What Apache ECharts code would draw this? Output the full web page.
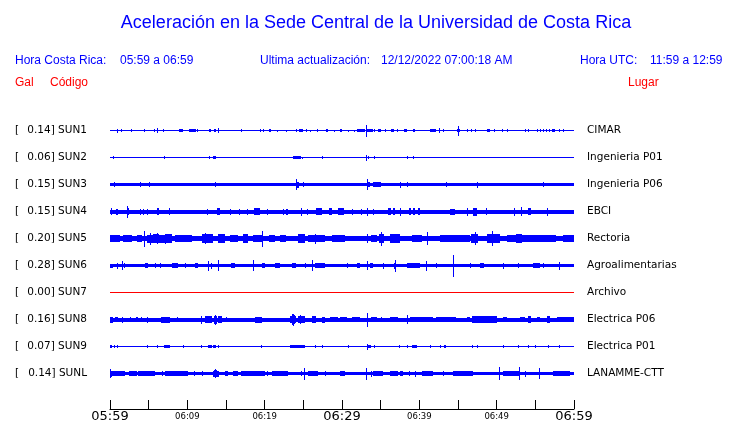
<!DOCTYPE html>
<html><head><meta charset="utf-8">
<script src="https://cdn.jsdelivr.net/npm/echarts@6/dist/echarts.min.js"></script>
<style>html,body{margin:0;padding:0;background:#fff}#c{width:740px;height:423px}</style>
</head><body><div id="c"></div>
<script>
// ---- data ----
const codes = ['SUN1','SUN2','SUN3','SUN4','SUN5','SUN6','SUN7','SUN8','SUN9','SUNL'];
const gal = ['0.14','0.06','0.15','0.15','0.20','0.28','0.00','0.16','0.07','0.14'];
const places = ['CIMAR','Ingenieria P01','Ingenieria P06','EBCI','Rectoria','Agroalimentarias','Archivo','Electrica P06','Electrica P01','LANAMME-CTT'];
const tickLabels = {0:'05:59',10:'06:09',20:'06:19',30:'06:29',40:'06:39',50:'06:49',60:'06:59'};
const majorTicks = [0,30,60];
// background trace amplitude per station (trace units)
const base = [0.5,0.5,1.7,2.0,2.9,1.5,0.5,2.0,0.6,1.6];
// bursts/spikes: [startMinute, endMinute, halfAmplitude]
const ev1 = [[0.95,0.95,2],[1.47,1.47,1.2],[2.76,2.76,1.2],[4.44,4.44,1.2],[5.73,5.73,1.2],[6.03,6.03,2.2],[6.9,6.9,1.2],[8.9,9.4,1.4],[10.2,11.1,1.4],[11.3,11.3,1.2],[12.8,13.1,1.4],[13.4,13.75,1.4],[14.0,14.0,2.5],[17.0,17.0,1.2],[19.4,19.4,1.2],[19.8,19.8,1.2],[20.5,20.5,1.2],[20.7,20.7,1.2],[21.6,21.6,1],[22.7,22.7,1],[24.05,24.05,1.2],[24.5,24.9,1.4],[25.4,25.4,1.2],[25.9,25.9,1],[26.8,26.8,1.2],[27.9,28.2,1.4],[29.0,29.0,1],[29.74,29.96,1.4],[30.8,30.8,1],[31.55,31.55,1],[31.98,32.97,1.4],[33.15,33.15,6],[33.2,34.05,1.5],[34.2,34.2,1.2],[34.7,35.04,1.4],[35.5,35.5,1.2],[36.3,36.72,1.2],[37.16,37.16,1.2],[37.97,38.36,1.2],[39.2,39.5,1.2],[41.38,42.2,1.5],[42.5,42.5,2.5],[43.1,43.1,1.2],[44.9,45.3,1.6],[45.04,45.04,5],[46.2,46.2,1.2],[46.7,46.7,1.2],[47.2,47.2,1.2],[48.7,49.1,1.2],[49.66,49.66,1.2],[50.7,50.86,1.2],[51.3,51.3,1.2],[53.66,53.66,1.2],[54.1,54.1,1.2],[55.2,55.2,1.2],[55.6,55.6,1.2],[56.0,56.0,1.2],[56.4,56.4,1.2],[56.8,56.8,1.2],[57.2,57.6,1.2],[58.0,58.0,1.2],[58.6,58.6,1.2]];
const ev2 = [[0.43,0.43,1.3],[7.03,7.03,1.5],[12.84,12.84,1.2],[13.36,13.66,1.3],[23.7,24.7,1.5],[24.87,24.87,1],[27.37,27.37,1.2],[33.15,33.15,3],[33.3,33.5,1.3],[34.2,34.2,1.2],[38.45,38.45,1.5],[39.2,39.2,1.5]];
const ev3 = [[0.56,0.56,2.5],[3.9,3.9,2.2],[5.1,5.1,2.7],[13.6,13.6,2.8],[24.1,24.1,5.5],[24.2,24.5,3],[24.9,24.9,2.5],[33.2,33.2,5.5],[33.3,33.6,2.8],[34.0,35.1,2.1],[37.5,37.5,3],[38.45,38.45,2.3],[43.45,43.45,2.2],[47.4,47.4,3],[56.0,56.0,2.2]];
const ev4 = [[0.13,0.13,3.3],[0.78,0.99,3],[2.16,2.16,6],[2.37,2.37,3.5],[3.84,3.84,3],[4.31,4.31,3],[4.83,4.83,3],[6.03,6.34,3.5],[7.67,7.67,3.5],[12.5,12.5,3],[13.9,14.2,3.2],[15.56,15.56,3],[16.7,16.7,3],[17.7,17.7,3],[18.66,19.4,3.3],[20.26,20.26,3],[22.33,22.5,3],[22.8,23.06,3],[24.66,24.66,4],[25.43,25.43,3],[26.7,27.4,3.2],[28.3,28.7,3.2],[29.5,30.3,3.3],[31.3,31.3,3],[32.46,32.46,3],[33.2,33.2,4],[34.05,34.05,3],[35.9,36.3,3.2],[36.6,36.85,3.2],[37.5,37.5,4],[38.6,38.9,3.2],[39.2,39.5,3.2],[39.8,40.1,3.4],[44.0,44.6,3],[46.1,46.3,4],[47.0,47.4,4],[48.6,48.6,3.5],[52.2,52.2,4],[53.2,53.2,4.5],[54.1,54.5,3.4],[56.5,56.5,4]];
const ev5 = [[0,1.3,3.4],[1.7,2.8,3.4],[3.45,4.1,3.6],[4.4,4.4,8],[4.74,5.5,4],[5.5,6.3,4.6],[6.3,7.2,4],[7.2,8.0,4.4],[5.2,5.2,6],[6.1,6.1,5.5],[7.1,7.1,5],[8.4,10.6,3.4],[11.85,13.36,4.1],[12.3,12.3,5.5],[14.0,14.87,4.1],[15.5,16.6,3.4],[17.24,17.9,4.6],[18.5,19.8,3.8],[19.6,19.6,8],[20.5,21.3,3.8],[22.0,22.8,3.4],[24.35,25.2,4.2],[25.65,27.8,3.7],[26.5,26.5,5],[28.7,30.4,3.4],[33.2,33.2,4.5],[33.8,34.5,3.5],[34.8,35.4,4.3],[35.1,35.1,7],[36.2,37.5,4.4],[39.0,40.3,3.4],[41.0,41.0,6.5],[42.7,46.5,3.4],[46.7,47.6,4.4],[47.2,47.2,6.5],[48.7,50.4,4.4],[49.35,49.35,7.5],[51.3,57.7,3.6],[52.5,53.3,4.3],[58.6,60,3.4]];
const ev6 = [[0,0.43,2],[0.86,0.86,3],[1.5,1.5,4.5],[1.85,2.0,2.5],[4.5,4.96,2.5],[5.8,5.8,2.2],[6.5,6.5,2.2],[8.0,8.8,2.2],[9.7,9.7,2.2],[11.0,11.4,2.8],[12.7,12.7,5],[13.1,13.1,3],[14.0,14.0,5.5],[15.7,16.2,2.2],[18.5,18.5,5.5],[19.6,20.0,2.2],[21.3,22.0,2.2],[23.5,24.1,2.2],[25.2,25.2,2.5],[26.16,26.16,5.5],[26.5,27.8,2.5],[30.6,30.6,2.2],[31.9,32.3,2.2],[33.2,33.2,4.5],[33.6,34.05,2.8],[35.35,35.35,3],[36.85,36.85,6],[36.7,37.0,3],[38.4,40.1,2.3],[40.86,40.86,5],[42.2,42.2,2.2],[44.4,44.4,11],[46.6,46.6,2.5],[47.8,48.3,2.2],[50.86,50.86,3],[52.8,52.8,2.5],[54.7,55.6,2.2],[56.0,56.0,2.5],[58.0,58.0,4]];
const ev7 = [];
const ev8 = [[0,0.43,3],[0.65,1.08,2.7],[1.5,1.5,3],[2.6,2.6,2.8],[3.3,3.66,2.7],[3.97,3.97,2.8],[4.74,4.74,3],[6.6,7.76,3],[8.6,8.6,2.8],[11.77,11.77,4],[12.3,13.15,3.2],[13.45,13.8,4],[13.6,13.6,5],[14.0,14.44,3.2],[15.0,15.0,2.8],[18.75,19.6,3],[23.3,23.5,3.5],[23.5,23.9,4.5],[23.55,23.55,5.5],[23.7,23.7,6],[23.9,24.1,3.5],[24.35,25.2,3.5],[24.6,24.6,4.5],[26.1,26.7,3.2],[27.4,27.8,3],[28.45,29.5,2.6],[29.74,30.6,2.7],[31.25,32.33,2.8],[33.2,33.2,7],[33.8,34.5,2.8],[35.1,35.1,2.8],[36.2,37.3,2.6],[38.36,38.36,4.5],[38.8,41.8,2.8],[42.2,44.8,2.8],[46.1,46.5,2.8],[46.8,50.0,3.2],[50.86,51.3,2.8],[53.0,53.66,2.8],[54.1,54.5,3.2],[55.17,55.6,2.8],[56.5,56.9,3.2],[57.8,60,2.8]];
const ev9 = [[0,0.2,1.3],[0.52,0.52,1.3],[0.95,0.95,1.3],[4.74,4.74,1.2],[6.1,6.1,1.2],[7.0,7.76,1.5],[9.5,9.5,1.2],[11.77,11.77,1.5],[12.7,13.15,1.5],[13.36,13.66,1.4],[14.0,14.0,1.3],[19.5,19.5,1.3],[23.3,25.2,1.7],[26.5,26.5,1.3],[27.37,27.37,1.3],[30.8,30.8,1.2],[33.2,33.2,3],[33.4,33.8,1.5],[34.2,34.2,1.2],[37.4,37.4,1.3],[38.36,38.36,1.3],[39.0,39.65,1.5],[41.38,41.38,1.3],[42.67,42.67,1.3],[43.2,43.5,1.3],[46.8,46.8,1.2],[47.4,47.6,1.6],[50.86,50.86,1.3],[52.8,52.8,1.2],[54.1,54.1,1.2],[54.96,54.96,1.2],[56.7,56.7,1.2],[58.0,58.0,1.2]];
const evL = [[0,0,4.5],[0,0.2,3],[0.2,1.94,2.4],[2.4,3.45,2.1],[3.66,5.8,2.1],[6.77,6.77,2.6],[7.1,10.1,2.1],[10.8,10.8,2.2],[11.85,11.85,2.2],[13.36,13.5,3],[13.5,13.9,3.5],[13.6,13.6,4.5],[13.9,14.1,3],[14.9,15.3,2.4],[15.95,16.6,2.2],[17.0,20.0,2.3],[20.26,20.26,2.2],[20.9,23.06,2.1],[24.7,24.7,2.6],[25.13,25.13,6],[25.65,26.94,2.4],[27.8,27.8,2.2],[29.74,30.4,2.1],[33.1,33.1,6],[33.8,33.8,3],[34.05,35.35,2.2],[36.2,37.3,2.2],[37.5,37.9,2.5],[38.6,38.6,2.2],[39.4,39.4,3],[40.3,41.8,2.2],[43.1,43.1,2.5],[44.4,47.0,2.1],[50.34,50.34,6.5],[50.86,53.0,2.4],[52.9,52.9,6.5],[53.66,53.66,3],[55.5,55.5,5.5],[57.3,59.5,2.8]];
const events = [ev1,ev2,ev3,ev4,ev5,ev6,ev7,ev8,ev9,evL];
const TRACE_UNITS_PER_ROW = 27;

// ---- chart ----
const chart = echarts.init(document.getElementById('c'), null, {renderer:'canvas'});
const BLUE = '#0000ff', RED = '#ff0000';
const catLabels = codes.map((c,i)=>'{b|[}{v|' + gal[i] + '] ' + c + '}');

function renderItem(params, api){
  const t0 = api.value(0), t1 = api.value(1), row = api.value(2), half = api.value(3);
  const p0 = api.coord([t0, row]);
  const p1 = api.coord([t1, row]);
  const band = api.size([0, 1])[1];
  const h = half * band / TRACE_UNITS_PER_ROW;
  const x0 = Math.round(p0[0]);
  const x1 = Math.max(x0 + 1, Math.round(p1[0]));
  const cy = p0[1] + 0.5;
  const yTop = Math.round(cy - h);
  const yBot = Math.max(yTop + 1, Math.round(cy + h));
  return {type:'rect', shape:{x:x0, y:yTop, width:x1-x0, height:yBot-yTop},
          style:{fill: api.visual('color')}};
}

const series = codes.map((c, i) => {
  const data = [[0, 60, i, base[i]]].concat(events[i].map(e => [e[0], e[1], i, e[2]]));
  return {type:'custom', name:c, renderItem, data, encode:{x:[0,1], y:2},
          itemStyle:{color: c === 'SUN7' ? RED : BLUE}, silent:true, animation:false, clip:false};
});

const txt = (x, y, s, color, size, align) => ({type:'text', x, y,
  style:{text:s, fill:color, font: size + 'px "Liberation Sans", Arial, sans-serif', textAlign:align||'left', textVerticalAlign:'middle'}});

chart.setOption({
  animation:false,
  grid:{left:110, right:166, top:116.5, bottom:36.5, containLabel:false, outerBoundsMode:'none'},
  xAxis:{type:'value', min:0, max:60, interval:5, offset:22.5,
    axisLine:{show:true, lineStyle:{color:'#000', width:1}},
    axisTick:{show:true, inside:true, length:9, lineStyle:{color:'#000'}},
    splitLine:{show:false},
    axisLabel:{margin:1, color:'#000', fontFamily:'"DejaVu Sans", sans-serif',
      formatter: v => tickLabels[v] === undefined ? '' : (majorTicks.includes(v) ? '{big|' + tickLabels[v] + '}' : '{small|' + tickLabels[v] + '}'),
      rich:{big:{fontSize:13, fontFamily:'"DejaVu Sans", sans-serif', color:'#000'},
            small:{fontSize:8.5, fontFamily:'"DejaVu Sans", sans-serif', color:'#000', padding:[2,0,0,0]}}}
  },
  yAxis:[
    {type:'category', data:catLabels, inverse:true, boundaryGap:true,
     axisLine:{show:false}, axisTick:{show:false}, splitLine:{show:false},
     axisLabel:{margin:23, color:'#000', fontFamily:'"DejaVu Sans", sans-serif', fontSize:10.5,
       rich:{b:{width:12, align:'left', fontSize:10.5, fontFamily:'"DejaVu Sans", sans-serif', color:'#000'},
             v:{width:60, align:'right', fontSize:10.5, fontFamily:'"DejaVu Sans", sans-serif', color:'#000'}}}},
    {type:'category', data:places, inverse:true, boundaryGap:true, position:'right',
     axisLine:{show:false}, axisTick:{show:false}, splitLine:{show:false},
     axisLabel:{margin:13, align:'left', color:'#000', fontFamily:'"DejaVu Sans", sans-serif', fontSize:10.5}}
  ],
  graphic:[
    txt(376, 23, 'Aceleración en la Sede Central de la Universidad de Costa Rica', BLUE, 18, 'center'),
    txt(15, 61, 'Hora Costa Rica:', BLUE, 12),
    txt(120, 61, '05:59 a 06:59', BLUE, 12),
    txt(260, 61, 'Ultima actualización:', BLUE, 12),
    txt(381, 61, '12/12/2022 07:00:18 AM', BLUE, 12),
    txt(580, 61, 'Hora UTC:', BLUE, 12),
    txt(650, 61, '11:59 a 12:59', BLUE, 12),
    txt(15, 83, 'Gal', RED, 12),
    txt(50, 83, 'Código', RED, 12),
    txt(628, 83, 'Lugar', RED, 12)
  ],
  series
});
</script></body></html>
